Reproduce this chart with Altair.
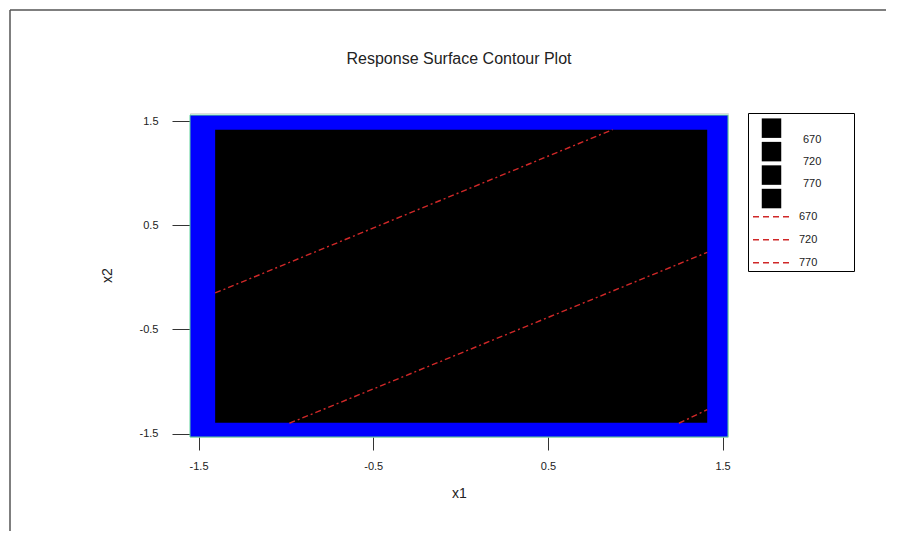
import altair as alt
import pandas as pd

# ---------------- data ----------------
levels = [670, 720, 770]
line_x_start = [-1.405, -0.98, 1.25]
line_y_start = [-0.15, -1.40, -1.40]
line_x_end = [0.87, 1.412, 1.412]
line_y_end = [1.417, 0.24, -1.27]

x_ticks = [-1.5, -0.5, 0.5, 1.5]
y_ticks = [-1.5, -0.5, 0.5, 1.5]

outer_x = [-1.549, 1.531]   # blue region
outer_y = [-1.532, 1.557]
inner_x = [-1.405, 1.412]   # black region
inner_y = [-1.396, 1.417]

legend_fill_levels = [670, 720, 770]
legend_line_levels = [670, 720, 770]
n_fill_boxes = 4

FONT = "Liberation Sans"
TXT = "#222222"
RED = "#d02828"

# ---------------- main plot ----------------
xs = alt.Scale(domain=[outer_x[0], outer_x[1]], nice=False, zero=False)
ys = alt.Scale(domain=[outer_y[0], 1.577], nice=False, zero=False)

xaxis = alt.Axis(values=x_ticks, labelExpr="toString(datum.value)", tickSize=13,
                 tickColor="#333333", domain=False, grid=False, labelPadding=10,
                 labelFontSize=11, labelColor=TXT, labelFont=FONT,
                 title="x1", titleFontSize=14, titleFontWeight="normal",
                 titleColor=TXT, titleFont=FONT, titlePadding=15)
yaxis = alt.Axis(values=y_ticks, labelExpr="toString(datum.value)", tickSize=18,
                 tickColor="#333333", domain=False, grid=False, labelPadding=14,
                 labelFontSize=11, labelColor=TXT, labelFont=FONT,
                 title="x2", titleFontSize=14, titleFontWeight="normal",
                 titleColor=TXT, titleFont=FONT, titlePadding=25)

outer_df = pd.DataFrame({"x": [outer_x[0]], "x2": [outer_x[1]],
                         "y": [outer_y[0]], "y2": [outer_y[1]]})
inner_df = pd.DataFrame({"x": [inner_x[0]], "x2": [inner_x[1]],
                         "y": [inner_y[0]], "y2": [inner_y[1]]})

rows = []
for lv, xa, ya, xb, yb in zip(levels, line_x_start, line_y_start, line_x_end, line_y_end):
    rows.append({"level": lv, "o": 0, "x": xa, "y": ya})
    rows.append({"level": lv, "o": 1, "x": xb, "y": yb})
lines_df = pd.DataFrame(rows)

outer = alt.Chart(outer_df).mark_rect(fill="#0000ff", stroke="#5fd39a", strokeWidth=1).encode(
    x=alt.X("x:Q", scale=xs, axis=xaxis), x2="x2:Q",
    y=alt.Y("y:Q", scale=ys, axis=yaxis), y2="y2:Q")
inner = alt.Chart(inner_df).mark_rect(fill="#000000").encode(
    x=alt.X("x:Q", scale=xs), x2="x2:Q", y=alt.Y("y:Q", scale=ys), y2="y2:Q")
contours = alt.Chart(lines_df).mark_line(color=RED, strokeWidth=1.4,
                                         strokeDash=[6, 3, 2, 3]).encode(
    x=alt.X("x:Q", scale=xs), y=alt.Y("y:Q", scale=ys),
    detail="level:N", order="o:Q")

main = alt.layer(outer, inner, contours).properties(
    width=538, height=324,
    title=alt.TitleParams("Response Surface Contour Plot", fontSize=16,
                          fontWeight="normal", font=FONT, color=TXT,
                          anchor="middle", offset=46))

# ---------------- legend panel ----------------
lx = alt.Scale(domain=[0, 106], nice=False, zero=False)
ly = alt.Scale(domain=[-0.609, 6.26], nice=False, zero=False, reverse=True)

box_df = pd.DataFrame({"r": [0.05 + 1.02 * i for i in range(n_fill_boxes)],
                       "x": [23.5] * n_fill_boxes})
fl_df = pd.DataFrame({"lab": [str(v) for v in legend_fill_levels],
                      "r": [0.55 + 0.97 * i for i in range(len(legend_fill_levels))],
                      "x": [55] * len(legend_fill_levels)})
ll_df = pd.DataFrame({"lab": [str(v) for v in legend_line_levels],
                      "r": [3.9 + i for i in range(len(legend_line_levels))],
                      "x": [5] * len(legend_line_levels),
                      "x2": [41] * len(legend_line_levels),
                      "tx": [51] * len(legend_line_levels)})

boxes = alt.Chart(box_df).mark_square(size=380, color="#000000", opacity=1).encode(
    x=alt.X("x:Q", scale=lx, axis=None), y=alt.Y("r:Q", scale=ly, axis=None))
flabels = alt.Chart(fl_df).mark_text(align="left", baseline="middle", fontSize=11,
                                     font=FONT, color=TXT).encode(
    x=alt.X("x:Q", scale=lx, axis=None), y=alt.Y("r:Q", scale=ly, axis=None), text="lab:N")
llines = alt.Chart(ll_df).mark_rule(color=RED, strokeWidth=1.5, strokeDash=[6, 4]).encode(
    x=alt.X("x:Q", scale=lx, axis=None), x2="x2:Q", y=alt.Y("r:Q", scale=ly, axis=None))
llabels = alt.Chart(ll_df).mark_text(align="left", baseline="middle", fontSize=11,
                                     font=FONT, color=TXT).encode(
    x=alt.X("tx:Q", scale=lx, axis=None), y=alt.Y("r:Q", scale=ly, axis=None), text="lab:N")

# page frame (decoration), drawn relative to the legend panel
one = pd.DataFrame({"a": [0]})
border_top = alt.Chart(one).mark_rule(color="#555555", strokeWidth=1.5).encode(
    x=alt.value(-738), x2=alt.value(138), y=alt.value(-103))
border_left = alt.Chart(one).mark_rule(color="#555555", strokeWidth=1.5).encode(
    x=alt.value(-738), y=alt.value(-103), y2=alt.value(418))

legend = alt.layer(boxes, flabels, llines, llabels, border_top, border_left).properties(
    width=106, height=158,
    view=alt.ViewBackground(stroke="#000000", strokeWidth=1))

chart = alt.hconcat(main, legend, spacing=20, bounds="flush").properties(
    padding=0
).configure_view(stroke=None).configure(font=FONT, background="white")

chart.save("out.html", embed_options={"renderer": "svg", "actions": False})
